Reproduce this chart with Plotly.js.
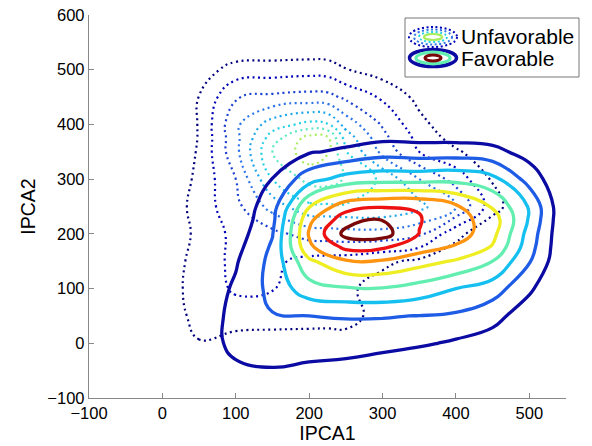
<!DOCTYPE html>
<html><head><meta charset="utf-8">
<script src="https://cdn.plot.ly/plotly-3.0.1.min.js"></script>
<style>html,body{margin:0;padding:0;background:#fff}#chart{width:592px;height:446px}</style>
</head><body><div id="chart"></div>
<script>
// ---------- data ----------
// Favorable: density grid (contour levels 1..8)
const favX = [-50, 0, 50, 100, 150, 200, 250, 300, 350, 400, 450, 500, 550];
const favY = [-100, -50, 0, 50, 100, 150, 175, 200, 225, 250, 300, 350, 400, 450, 500, 550, 600];
const favZ = [
  [0,0,0,0,0,0,0,0,0,0,0,0,0],
  [0,0,0,0.8,0.92,0.72,0.53,0.05,0,0,0,0,0],
  [0,0,0.4,1.3,1.6,1.6,1.6,1.5,1.15,0.85,0.6,0.1,0],
  [0,0,0.3,1.35,1.95,2.0,2.05,2.05,1.98,1.85,1.3,0.5,0],
  [0,0,0.3,1.15,2.3,3.6,3.9,3.95,3.6,3.0,2.5,1.15,0],
  [0,0,0.2,0.9,2.3,4.8,5.9,5.9,5.4,4.9,4.0,2.08,0],
  [0,0,0.15,0.7,2.15,5.8,7.2,7.1,6.4,5.85,4.9,2.4,0],
  [0,0,0.1,0.5,1.95,6.1,8.3,8.4,6.98,6.55,5.3,2.6,0],
  [0,0,0.05,0.35,1.75,5.8,7.6,8.05,7.05,6.4,5.53,2.88,0],
  [0,0,0,0.25,1.6,4.95,6.6,6.92,6.95,6.15,4.9,2.9,0],
  [0,0,0,0.1,1.02,2.6,3.4,3.6,3.6,3.7,3.3,1.6,0],
  [0,0,0,0,0.5,0.9,1.2,1.6,1.5,1.5,1.3,0.6,0],
  [0,0,0,0,0,0,0,0,0,0,0,0,0],
  [0,0,0,0,0,0,0,0,0,0,0,0,0],
  [0,0,0,0,0,0,0,0,0,0,0,0,0],
  [0,0,0,0,0,0,0,0,0,0,0,0,0],
  [0,0,0,0,0,0,0,0,0,0,0,0,0]
];
// Unfavorable: density grid (contour levels 1..8)
const unfX = [-50, 0, 50, 100, 150, 200, 225, 250, 300, 350, 400, 450, 500, 550];
const unfY = [-100, -50, 0, 50, 100, 150, 200, 250, 300, 350, 375, 400, 450, 500, 550, 600];
const unfZ = [
  [0,0,0,0,0,0,0,0,0,0,0,0,0,0],
  [0,0,0,0,0,0,0,0,0,0,0,0,0,0],
  [0,0.1,0.95,0.6,0.55,0.55,0.52,0.5,0.1,0,0,0,0,0],
  [0,0.4,1.3,1.5,1.45,1.4,1.4,1.45,0.5,0,0,0,0,0],
  [0,0.5,1.4,2.15,2.05,1.5,1.35,1.2,0.6,0.1,0,0,0,0],
  [0,0.5,1.3,2.3,2.2,1.7,1.6,1.55,1.2,0.8,0.3,0,0,0],
  [0,0.15,1.25,2.3,2.7,3.4,3.5,3.6,3.6,3.2,1.3,0.2,0,0],
  [0,0.2,1.4,2.7,4.4,5.8,5.85,5.9,5.9,5.3,4.0,1.4,0,0],
  [0,0,1.25,3.0,6.0,7.3,7.4,6.9,5.8,4.0,2.6,0.9,0,0],
  [0,0,1.1,3.7,7.0,8.6,8.1,6.05,3.7,2.0,1.15,0.3,0,0],
  [0,0,1.05,3.7,6.5,8.4,8.2,5.6,3.3,1.7,0.6,0,0,0],
  [0,0,1.05,3.8,5.5,6.3,6.1,4.6,2.9,1.3,0.3,0,0,0],
  [0,0,1.02,2.95,3.2,3.35,3.3,2.8,1.85,0.7,0,0,0,0],
  [0,0,0.5,1.4,1.5,1.6,1.55,1.05,0.5,0.1,0,0,0,0],
  [0,0,0,0,0,0,0,0,0,0,0,0,0,0],
  [0,0,0,0,0,0,0,0,0,0,0,0,0,0]
];
const levelStart = 1, levelEnd = 8, levelStep = 1;
const favColors = ['#0b0ba3','#1f5ce6','#15bff0','#62eeb0','#eeee22','#ff9410','#ee1111','#7a0808'];
const unfColors = ['#00007d','#0000b8','#1c40d0','#2c74e8','#1ea6ec','#26d0e4','#5ae8c4','#a8ee5c'];
const seriesNames = ['Unfavorable', 'Favorable'];
const xTicks = [-100, 0, 100, 200, 300, 400, 500];
const yTicks = [-100, 0, 100, 200, 300, 400, 500, 600];
const xRange = [-100, 550];
const yRange = [-100, 600];
const xTitle = 'IPCA1';
const yTitle = 'IPCA2';

// ---------- build ----------
const FONT = 'Liberation Sans, Arial, Helvetica, sans-serif';
const scale = cols => cols.map((c, i) => [i / (cols.length - 1), c]);

const unfTrace = {
  type: 'contour', name: seriesNames[0], x: unfX, y: unfY, z: unfZ,
  autocontour: false,
  contours: {start: levelStart, end: levelEnd, size: levelStep, coloring: 'lines'},
  colorscale: scale(unfColors), showscale: false,
  line: {width: 2.2, dash: '2px,3.5px', smoothing: 1.3},
  hoverinfo: 'skip'
};
const favTrace = {
  type: 'contour', name: seriesNames[1], x: favX, y: favY, z: favZ,
  autocontour: false,
  contours: {start: levelStart, end: levelEnd, size: levelStep, coloring: 'lines'},
  colorscale: scale(favColors), showscale: false,
  line: {width: 3.3, smoothing: 1.3},
  hoverinfo: 'skip'
};

// plot area in pixels
const L = 89, R = 566, T = 15, B = 398;
const px = v => (v - L) / (R - L);
const py = v => (B - v) / (B - T);
function ell(cx, cy, rx, ry, color, width, dash) {
  return {type: 'circle', xref: 'paper', yref: 'paper',
    x0: px(cx - rx), x1: px(cx + rx), y0: py(cy + ry), y1: py(cy - ry),
    line: {color: color, width: width, dash: dash || 'solid'}};
}
const shapes = [
  {type: 'rect', xref: 'paper', yref: 'paper', x0: px(405), x1: px(579), y0: py(77), y1: py(18),
   line: {color: '#777', width: 1}, fillcolor: '#fff', layer: 'above'},
  ell(433, 37, 24, 10, unfColors[1], 2, '2px,2.5px'),
  ell(433, 37, 19, 7.5, unfColors[3], 2, '2px,2.5px'),
  ell(433, 37, 14, 5, unfColors[5], 2, '2px,2.5px'),
  ell(433, 37, 9, 3, unfColors[7], 2.2),
  ell(433, 58, 23.5, 8.5, favColors[0], 3.5),
  ell(433, 58, 17, 5.8, favColors[3], 3.2),
  ell(433, 58, 8, 3, favColors[7], 3)
];
shapes.slice(1).forEach(s => s.layer = 'above');
const annotations = [
  {xref: 'paper', yref: 'paper', x: px(459), y: py(37), xanchor: 'left', yanchor: 'middle',
   text: seriesNames[0], showarrow: false, font: {family: FONT, size: 21, color: '#000'}},
  {xref: 'paper', yref: 'paper', x: px(459), y: py(58), xanchor: 'left', yanchor: 'middle',
   text: seriesNames[1], showarrow: false, font: {family: FONT, size: 21, color: '#000'}}
];

const axisCommon = {
  ticks: 'inside', ticklen: 5, tickwidth: 1, tickcolor: '#888',
  showline: true, linecolor: '#888', linewidth: 1.2,
  showgrid: false, zeroline: false, automargin: false,
  tickfont: {family: FONT, size: 16.5, color: '#000'}
};
const layout = {
  width: 592, height: 446,
  margin: {l: L, r: 592 - R, t: T, b: 446 - B, pad: 0},
  paper_bgcolor: '#fff', plot_bgcolor: '#fff',
  showlegend: false,
  font: {family: FONT, color: '#000'},
  xaxis: Object.assign({}, axisCommon, {range: xRange, tickvals: xTicks,
    title: {text: xTitle, font: {family: FONT, size: 19.5, color: '#000'}, standoff: 2}}),
  yaxis: Object.assign({}, axisCommon, {range: yRange, tickvals: yTicks,
    title: {text: yTitle, font: {family: FONT, size: 19.5, color: '#000'}, standoff: 6}}),
  shapes: shapes, annotations: annotations
};
Plotly.newPlot('chart', [unfTrace, favTrace], layout, {displayModeBar: false, staticPlot: true});
</script>
</body></html>
